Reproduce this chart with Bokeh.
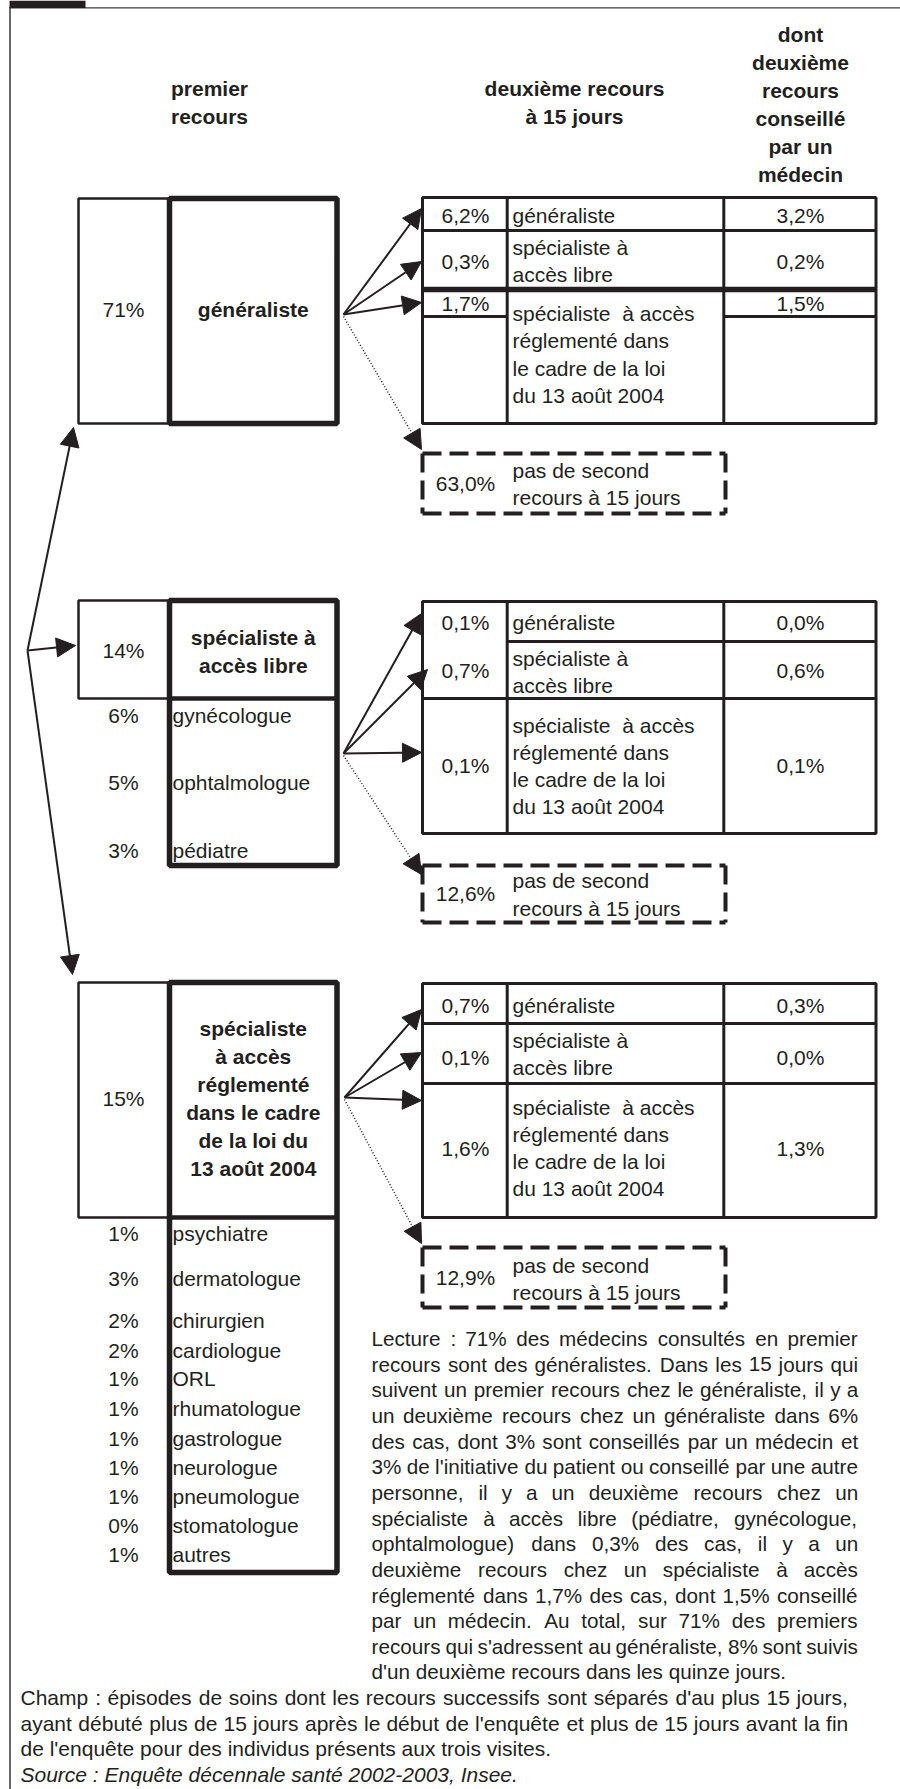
from bokeh.plotting import figure
from bokeh.models import Range1d, Arrow, NormalHead
from bokeh.core.properties import value
from bokeh.embed import file_html
from bokeh.resources import INLINE

# ------------------------------------------------------------------ data
header_first = ["premier", "recours"]
header_second = ["deuxième recours", "à 15 jours"]
header_advised = ["dont", "deuxième", "recours", "conseillé", "par un", "médecin"]

first_pct = ["71%", "14%", "15%"]
first_labels = [
    ["généraliste"],
    ["spécialiste à", "accès libre"],
    ["spécialiste", "à accès", "réglementé", "dans le cadre", "de la loi du", "13 août 2004"],
]

libre_pct = ["6%", "5%", "3%"]
libre_names = ["gynécologue", "ophtalmologue", "pédiatre"]

regl_pct = ["1%", "3%", "2%", "2%", "1%", "1%", "1%", "1%", "1%", "0%", "1%"]
regl_names = ["psychiatre", "dermatologue", "chirurgien", "cardiologue", "ORL",
              "rhumatologue", "gastrologue", "neurologue", "pneumologue",
              "stomatologue", "autres"]

second_categories = [
    ["généraliste"],
    ["spécialiste à", "accès libre"],
    ["spécialiste\u00a0 à accès", "réglementé dans", "le cadre de la loi", "du 13 août 2004"],
]
second_after_gen = ["6,2%", "0,3%", "1,7%"]
second_after_libre = ["0,1%", "0,7%", "0,1%"]
second_after_regl = ["0,7%", "0,1%", "1,6%"]
advised_after_gen = ["3,2%", "0,2%", "1,5%"]
advised_after_libre = ["0,0%", "0,6%", "0,1%"]
advised_after_regl = ["0,3%", "0,0%", "1,3%"]
no_second_pct = ["63,0%", "12,6%", "12,9%"]
no_second_label = ["pas de second", "recours à 15 jours"]

lecture_lines = [
    "Lecture : 71% des médecins consultés en premier",
    "recours sont des généralistes. Dans les 15 jours qui",
    "suivent un premier recours chez le généraliste, il y a",
    "un deuxième recours chez un généraliste dans 6%",
    "des cas, dont 3% sont conseillés par un médecin et",
    "3% de l'initiative du patient ou conseillé par une autre",
    "personne, il y a un deuxième recours chez un",
    "spécialiste à accès libre (pédiatre, gynécologue,",
    "ophtalmologue) dans 0,3% des cas,  il y a un",
    "deuxième recours chez un spécialiste à accès",
    "réglementé dans 1,7% des cas, dont 1,5% conseillé",
    "par un médecin. Au total, sur 71% des premiers",
    "recours qui s'adressent au généraliste, 8% sont suivis",
    "d'un deuxième recours dans les quinze jours.",
]
champ_lines = [
    "Champ : épisodes de soins dont les recours successifs sont séparés d'au plus 15 jours,",
    "ayant débuté plus de 15 jours après le début de l'enquête et plus de 15 jours avant la fin",
    "de l'enquête pour des individus présents aux trois visites.",
]
source_line = "Source : Enquête décennale santé 2002-2003, Insee."

# ------------------------------------------------------------------ style / layout
INK = "#231f20"
FONT = value("Liberation Sans")
FS = "21px"

p = figure(width=900, height=1789, x_range=Range1d(0, 900), y_range=Range1d(1789, 0),
           output_backend="svg", toolbar_location=None, min_border=0,
           x_axis_location=None, y_axis_location=None)
p.grid.visible = False
p.outline_line_color = None
p.background_fill_color = "white"
p.border_fill_color = "white"


def txt(xs, ys, texts, align="center", bold=False, italic=False, size=FS):
    style = "bold" if bold else ("italic" if italic else "normal")
    p.text(x=list(xs), y=list(ys), text=list(texts), text_font=FONT, text_font_size=size,
           text_color=INK, text_align=align, text_baseline="middle", text_font_style=style)


# outer frame
p.segment(x0=[9.5], y0=[7], x1=[9.5], y1=[1789], line_color="#3a3a3a", line_width=1.5)
p.segment(x0=[9], y0=[7.3], x1=[900], y1=[7.3], line_color="#3a3a3a", line_width=1.3)
p.quad(left=[9], right=[85], top=[0], bottom=[7.5], fill_color=INK, line_color=None)

# headers
txt([209, 209], [88, 116], header_first, bold=True)
txt([574, 574], [88, 116], header_second, bold=True)
txt([800] * len(header_advised), [34 + 28 * i for i in range(len(header_advised))],
    header_advised, bold=True)

# ---- first-recourse blocks
THIN_L, BOLD_L, BOLD_R = 78, 169, 336.5
blocks = [  # (top, divider, bold_bottom, pct_y, label_ys)
    (198, 423, 423, 309, [309]),
    (600, 698, 865, 650, [637, 665]),
    (982, 1217, 1572, 1098, [1028 + 28 * i for i in range(6)]),
]
for (top, div, bot, py, lys), pct, lab in zip(blocks, first_pct, first_labels):
    p.quad(left=THIN_L, right=BOLD_L, top=top, bottom=div, fill_color=None,
           line_color=INK, line_width=2.5)
    p.quad(left=BOLD_L, right=BOLD_R, top=top, bottom=bot, fill_color=None,
           line_color=INK, line_width=5.5)
    if div != bot:
        p.segment(x0=[BOLD_L], y0=[div], x1=[BOLD_R], y1=[div], line_color=INK, line_width=4.5)
    txt([123], [py], [pct])
    txt([252.8] * len(lab), lys, lab, bold=True)

libre_ys = [715, 782, 850]
txt([123] * 3, libre_ys, libre_pct)
txt([172] * 3, libre_ys, libre_names, align="left")
regl_ys = [1233, 1278, 1320, 1350, 1378, 1408, 1438, 1467, 1496, 1525, 1554]
txt([123] * len(regl_ys), regl_ys, regl_pct)
txt([172] * len(regl_ys), regl_ys, regl_names, align="left")


def head():
    return NormalHead(size=19, fill_color=INK, line_color=INK, line_width=1)


# ---- left fan arrows
c0 = (27, 650)
for tx, ty in [(73, 427), (75, 645), (72, 974)]:
    p.add_layout(Arrow(x_start=c0[0], y_start=c0[1], x_end=tx, y_end=ty, line_color=INK,
                       line_width=2, end=head()))

# ---- second-recourse tables
C0, C1, C2, C3 = 422, 506.7, 723.3, 875.5
tables = [
    dict(top=197, bottom=423, hfull=[230], hthick=[289], hpart13=[316], hpart23=[],
         rows=[215, 261, 303], cat=[[215], [247, 274], [313, 340, 368, 395]],
         second=second_after_gen, adv=advised_after_gen),
    dict(top=601, bottom=833, hfull=[698], hthick=[], hpart13=[], hpart23=[641],
         rows=[622, 670, 765], cat=[[622], [658, 685], [725, 752, 779, 806]],
         second=second_after_libre, adv=advised_after_libre),
    dict(top=983, bottom=1217, hfull=[1023, 1083], hthick=[], hpart13=[], hpart23=[],
         rows=[1005, 1057, 1148], cat=[[1005], [1040, 1067], [1107, 1134, 1161, 1188]],
         second=second_after_regl, adv=advised_after_regl),
]
for t in tables:
    p.quad(left=C0, right=C3, top=t["top"], bottom=t["bottom"], fill_color=None,
           line_color=INK, line_width=3)
    p.segment(x0=[C1, C2], y0=[t["top"]] * 2, x1=[C1, C2], y1=[t["bottom"]] * 2,
              line_color=INK, line_width=3)
    for y in t["hfull"]:
        p.segment(x0=[C0], y0=[y], x1=[C3], y1=[y], line_color=INK, line_width=3)
    for y in t["hthick"]:
        p.segment(x0=[C0], y0=[y], x1=[C3], y1=[y], line_color=INK, line_width=5.5)
    for y in t["hpart13"]:
        p.segment(x0=[C0, C2], y0=[y, y], x1=[C1, C3], y1=[y, y], line_color=INK, line_width=3)
    for y in t["hpart23"]:
        p.segment(x0=[C1], y0=[y], x1=[C3], y1=[y], line_color=INK, line_width=3)
    txt([465] * 3, t["rows"], t["second"])
    txt([800] * 3, t["rows"], t["adv"])
    for lines, ys in zip(second_categories, t["cat"]):
        txt([512] * len(lines), ys, lines, align="left")

# ---- dashed "no second recourse" boxes
D0, D1 = 422, 725
dashed = [(453, 513, 483, [470, 497]), (865, 922, 893, [880, 908]), (1247, 1307, 1277, [1265, 1292])]
for (top, bot, my, lys), pct in zip(dashed, no_second_pct):
    p.segment(x0=[D0, D0, D0, D1], y0=[top, bot, top, top], x1=[D1, D1, D0, D1],
              y1=[top, bot, bot, bot], line_color=INK, line_width=4, line_dash="19 8")
    txt([465], [my], [pct])
    txt([512, 512], lys, no_second_label, align="left")

# ---- fans of arrows towards the tables
fans = [
    ((343, 314), [(421, 208), (421, 261), (421, 302)], (421, 449)),
    ((343, 753), [(421, 613), (427, 669), (421, 752)], (421, 874)),
    ((344, 1097), [(421, 1009), (421, 1052), (421, 1100)], (421, 1243)),
]
for (ox, oy), tips, dotted in fans:
    for tx, ty in tips:
        p.add_layout(Arrow(x_start=ox, y_start=oy, x_end=tx, y_end=ty, line_color=INK,
                           line_width=2, end=head()))
    p.add_layout(Arrow(x_start=ox, y_start=oy + 2, x_end=dotted[0], y_end=dotted[1],
                       line_color=INK, line_width=1.5, line_dash="1 2", end=head()))

# ---- justified paragraphs (Arial / Liberation Sans advance widths, 1/1000 em)
W = {' ': 278, '%': 889, "'": 191, '(': 333, ')': 333, ',': 278, '-': 333, '.': 278, ':': 278}
for ch in "0123456789":
    W[ch] = 556
W.update(dict(zip("ABCDEFGHIJKLMNOPQRSTUVWXYZ",
                  [667, 667, 722, 722, 667, 611, 778, 722, 278, 500, 667, 556, 833, 722, 778,
                   667, 778, 722, 667, 611, 722, 667, 944, 667, 667, 611])))
W.update(dict(zip("abcdefghijklmnopqrstuvwxyz",
                  [556, 556, 500, 556, 556, 278, 556, 556, 222, 222, 500, 222, 833, 556, 556,
                   556, 556, 333, 500, 278, 556, 500, 722, 500, 500, 500])))
W.update({'é': 556, 'è': 556, 'ê': 556, 'à': 556, 'â': 556, 'û': 556, 'ô': 556, 'ç': 500,
          'ù': 556, 'î': 278, 'ï': 278})


def width(s, px):
    return sum(W.get(ch, 556) for ch in s) * px * 1.012 / 1000.0


def justified(lines, x0, x1, ys, n_justified, px):
    xs, yy, tt = [], [], []
    for i, (line, y) in enumerate(zip(lines, ys)):
        if i >= n_justified:
            xs.append(x0); yy.append(y); tt.append(line)
            continue
        words = line.split()
        gap = (x1 - x0 - sum(width(w, px) for w in words)) / (len(words) - 1)
        x = x0
        for w in words:
            xs.append(x); yy.append(y); tt.append(w)
            x += width(w, px) + gap
    txt(xs, yy, tt, align="left", size="%gpx" % px)


lect_ys = [1338 + 25.65 * i for i in range(len(lecture_lines))]
justified(lecture_lines, 371, 858, lect_ys, len(lecture_lines) - 1, 20.7)
champ_ys = [1697, 1723, 1748]
justified(champ_lines, 20, 848, champ_ys, 2, 21.0)
txt([20], [1774], [source_line], align="left", italic=True)

open("out.html", "w").write(file_html(p, INLINE))
